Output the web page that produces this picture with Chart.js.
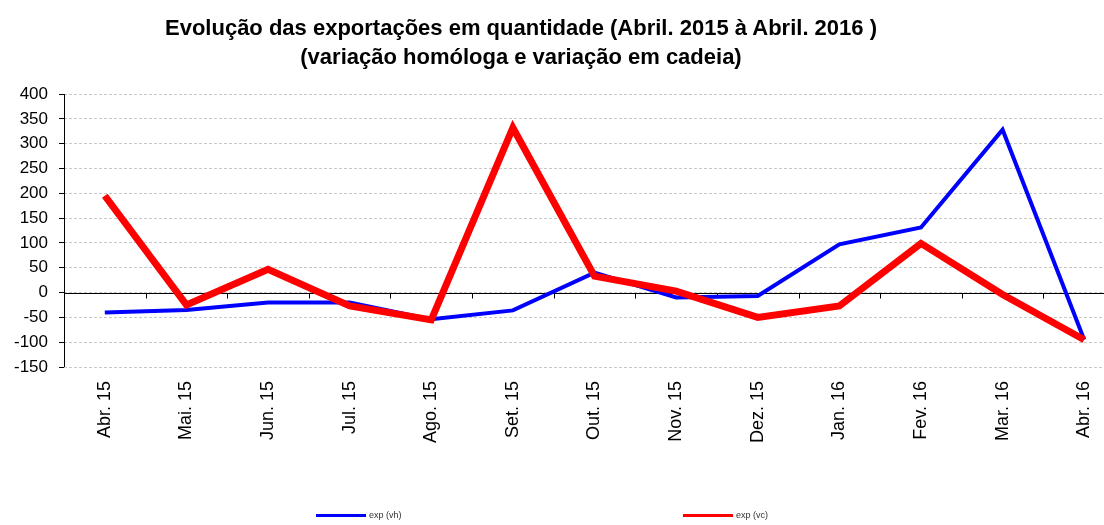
<!DOCTYPE html>
<html>
<head>
<meta charset="utf-8">
<script src="https://cdn.jsdelivr.net/npm/chart.js@4/dist/chart.umd.min.js"></script>
<style>
  html, body { margin: 0; padding: 0; background: #fff; overflow: hidden; }
  #wrap { position: relative; width: 1104px; height: 525px; overflow: hidden; }
  #title {
    position: absolute; left: 0; top: 13px; width: 1042px; text-align: center;
    font-family: "Liberation Sans", Arial, sans-serif; font-weight: bold;
    font-size: 22px; line-height: 29px; color: #000;
  }
  #box { position: absolute; left: 0; top: 0; width: 1125px; height: 525px; }
  #legend { position: absolute; top: 510px; left: 0; width: 1104px; height: 14px;
    font-family: "Liberation Sans", Arial, sans-serif; font-size: 9px; color: #333; }
  .item { position: absolute; top: 0; white-space: nowrap; }
  .item span.ln { display: inline-block; width: 50px; height: 3px; vertical-align: middle; margin-right: 3px; }
</style>
</head>
<body>
<div id="wrap">
  <div id="box"><canvas id="chart"></canvas></div>
  <div id="title">Evolução das exportações em quantidade (Abril. 2015 à Abril. 2016 )<br>(variação homóloga e variação em cadeia)</div>
  <div id="legend"></div>
</div>
<script>
const months = ['Abr. 15', 'Mai. 15', 'Jun. 15', 'Jul. 15', 'Ago. 15', 'Set. 15', 'Out. 15',
  'Nov. 15', 'Dez. 15', 'Jan. 16', 'Fev. 16', 'Mar. 16', 'Abr. 16'];
const expVh = [-40, -35, -20, -20, -54, -36, 40, -10, -7, 97, 131, 328, -95];
const expVc = [195, -25, 47, -27, -55, 332, 33, 3, -50, -27, 99, -4, -95];
const yTicks = [-150, -100, -50, 0, 50, 100, 150, 200, 250, 300, 350, 400];

// zero line, y axis line and x tick marks sitting on the zero line
const axisLines = {
  id: 'axisLines',
  beforeDatasetsDraw(chart) {
    const { ctx, chartArea, scales } = chart;
    const y0 = Math.round(scales.y.getPixelForValue(0)) + 0.5;
    const left = Math.round(chartArea.left) + 0.5;
    ctx.save();
    ctx.strokeStyle = '#000';
    ctx.lineWidth = 1;
    ctx.beginPath();
    ctx.moveTo(left, chartArea.top);
    ctx.lineTo(left, chartArea.bottom);
    ctx.moveTo(chartArea.left, y0);
    ctx.lineTo(chartArea.right, y0);
    const step = scales.x.getPixelForValue(1) - scales.x.getPixelForValue(0);
    for (let i = 1; i < months.length; i++) {
      const x = Math.round(scales.x.getPixelForValue(i) - step / 2) + 0.5;
      ctx.moveTo(x, y0);
      ctx.lineTo(x, y0 + 5);
    }
    ctx.stroke();
    ctx.restore();
  }
};

const chart = new Chart(document.getElementById('chart'), {
  type: 'line',
  data: {
    labels: months,
    datasets: [
      { label: 'exp (vh)', data: expVh, borderColor: '#0000ff', borderWidth: 4, pointRadius: 0, tension: 0, order: 2 },
      { label: 'exp (vc)', data: expVc, borderColor: '#ff0000', borderWidth: 7, pointRadius: 0, tension: 0, order: 1 }
    ]
  },
  options: {
    responsive: true,
    maintainAspectRatio: false,
    animation: false,
    layout: { padding: { top: 94, right: 0, left: 0, bottom: 0 } },
    plugins: { legend: { display: false }, title: { display: false }, tooltip: { enabled: false } },
    scales: {
      x: {
        offset: true,
        grid: { display: false },
        border: { display: false },
        ticks: {
          minRotation: 90, maxRotation: 90, padding: 6, color: '#000',
          font: { family: '"Liberation Sans", Arial, sans-serif', size: 18 }
        },
        afterFit(scale) { scale.height = 158; }
      },
      y: {
        min: -150, max: 400,
        afterBuildTicks(scale) { scale.ticks = yTicks.map(v => ({ value: v })); },
        grid: {
          color: '#c8c8c8', lineWidth: 1,
          tickColor: '#000', tickLength: 5, tickBorderDash: []
        },
        border: { display: false, dash: [3, 2] },
        ticks: {
          color: '#000', padding: 11,
          font: { family: '"Liberation Sans", Arial, sans-serif', size: 17 }
        },
        afterFit(scale) { scale.width = 64; }
      }
    }
  },
  plugins: [axisLines]
});

// legend built from the datasets, spread like the original
const legendPos = [316, 683];
const legend = document.getElementById('legend');
chart.data.datasets.forEach((ds, i) => {
  const el = document.createElement('div');
  el.className = 'item';
  el.style.left = legendPos[i] + 'px';
  el.innerHTML = '<span class="ln" style="background:' + ds.borderColor + '"></span>' + ds.label;
  legend.appendChild(el);
});
</script>
</body>
</html>
